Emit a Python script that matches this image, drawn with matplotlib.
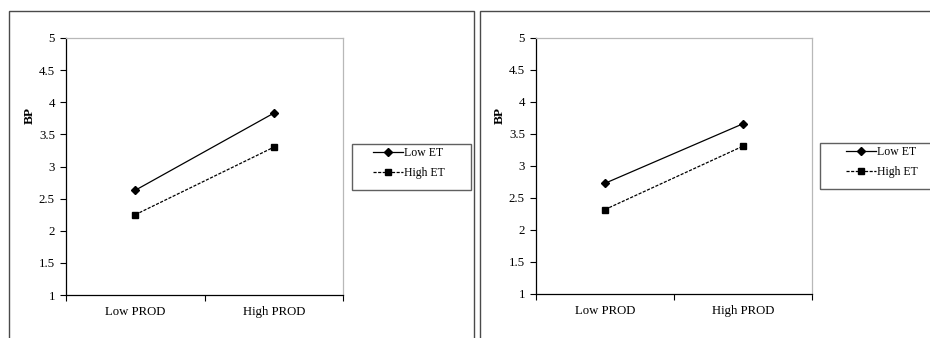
import matplotlib
matplotlib.use("Agg")
import matplotlib.pyplot as plt
from matplotlib.patches import Rectangle

plt.rcParams['font.family'] = ['Liberation Serif', 'DejaVu Serif']

categories = ['Low PROD', 'High PROD']
series_names = ['Low ET', 'High ET']

# values
left_low_et = [2.63, 3.83]
left_high_et = [2.25, 3.30]
right_low_et = [2.73, 3.66]
right_high_et = [2.32, 3.31]

yticks = [1, 1.5, 2, 2.5, 3, 3.5, 4, 4.5, 5]

W, H = 930, 338
fig = plt.figure(figsize=(W / 100, H / 100), dpi=100)


def fx(px):
    return px / W


def fy(py):
    return 1 - py / H


# outer panel frames
for x0, x1 in [(9, 474), (480, 940)]:
    fig.add_artist(Rectangle((fx(x0), fy(345)), fx(x1 - x0), (345 - 11) / H,
                             transform=fig.transFigure, fill=False,
                             edgecolor='#4a4a4a', linewidth=1.0))


def panel(ax_px, low, high, box_px, leg_xy, label_px):
    l, t, r, b = ax_px
    ax = fig.add_axes([fx(l), fy(b), fx(r - l), (b - t) / H])
    xs = [0.5, 1.5]
    ax.plot(xs, low, '-', color='black', lw=0.9, marker='D', ms=3.6,
            label=series_names[0])
    ax.plot(xs, high, '--', color='black', lw=0.9, marker='s', ms=4.8,
            dashes=(2.5, 1.2), label=series_names[1])
    ax.set_xlim(0, 2)
    ax.set_ylim(1, 5)
    ax.set_yticks(yticks)
    ax.set_yticklabels([('%g' % v) for v in yticks], fontsize=9.3)
    ax.set_xticks([0, 1, 2])
    ax.set_xticklabels([])
    ax.set_xticks(xs, minor=True)
    ax.set_xticklabels(categories, minor=True, fontsize=9.2)
    ax.tick_params(axis='x', which='major', length=4, direction='out',
                   color='black')
    ax.tick_params(axis='x', which='minor', length=0, pad=8)
    ax.tick_params(axis='y', length=4, direction='out', pad=4)
    for s in ['top', 'right']:
        ax.spines[s].set_color('#b8b8b8')
        ax.spines[s].set_linewidth(0.9)
    for s in ['left', 'bottom']:
        ax.spines[s].set_color('black')
        ax.spines[s].set_linewidth(0.9)
    fig.text(fx(label_px[0]), fy(label_px[1]), 'BP', rotation=90,
             fontweight='bold', fontsize=9.5, ha='center', va='center')

    # legend frame
    bx0, by0, bx1, by1 = box_px
    fig.add_artist(Rectangle((fx(bx0), fy(by1)), fx(bx1 - bx0),
                             (by1 - by0) / H, transform=fig.transFigure,
                             fill=False, edgecolor='#606060', linewidth=1.0))
    ax.legend(loc='upper left', bbox_to_anchor=(fx(leg_xy[0]), fy(leg_xy[1])),
              bbox_transform=fig.transFigure, borderaxespad=0, borderpad=0,
              fontsize=8.5, frameon=False, handlelength=2.5,
              handletextpad=0.15, labelspacing=0.7)
    return ax


panel((66, 38, 343, 295), left_low_et, left_high_et,
      (352, 144, 471, 190), (373, 147), (30, 115))
panel((536, 38, 812, 294), right_low_et, right_high_et,
      (820, 143, 945, 189), (846, 146), (500, 115))

fig.savefig('out.png', dpi=100)
